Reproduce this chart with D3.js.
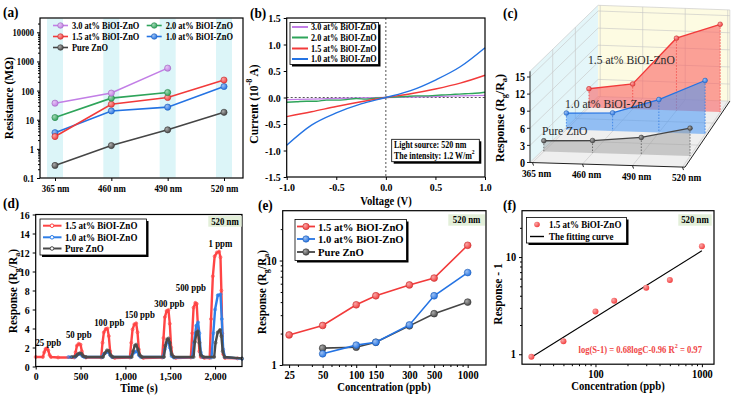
<!DOCTYPE html>
<html><head><meta charset="utf-8">
<script src="https://cdn.jsdelivr.net/npm/d3@7"></script>
<style>body{margin:0;background:#fff}</style>
</head><body><script>
// ---------------- DATA ----------------
// (a) resistance vs wavelength
const aWave=['365 nm','460 nm','490 nm','520 nm'];
const aRes30=[37,82,590,null];
const aRes20=[11.9,55,86,null];
const aRes15=[2.65,34,58,230];
const aRes10=[3.6,20,27,138];
const aResZnO=[0.27,1.3,4.5,18];
const aYTicks=[0.1,1,10,100,1000,10000];
// (b) I-V curves
const bVolt=[-1,-0.75,-0.5,-0.25,0,0.25,0.5,0.75,1];
const bI10=[-0.9,-0.52,-0.29,-0.12,0,0.13,0.33,0.58,0.94];
const bI15=[-0.36,-0.27,-0.17,-0.08,0,0.07,0.16,0.27,0.42];
const bI30=[-0.04,-0.03,-0.02,-0.01,0,0.01,0.02,0.03,0.04];
const bVoltFine=[-1,-0.9,-0.8,-0.7,-0.6,-0.5,-0.4,-0.3,-0.2,-0.1,0,0.1,0.2,0.3,0.4,0.5,0.6,0.7,0.8,0.9,1];
const bI20=[-0.09,-0.08,-0.07,-0.07,-0.05,-0.05,-0.04,-0.02,-0.03,-0.01,0,0.01,0.02,0.03,0.03,0.04,0.05,0.06,0.07,0.08,0.1];
const bYTicks=[-1.5,-1.0,-0.5,0,0.5,1.0,1.5];
const bXTicks=[-1,-0.5,0,0.5,1];
// (c) 3D response vs wavelength
const cResp15=[3.3,4.4,12.7,15.4];
const cResp10=[2.9,3.2,5.8,9.4];
const cRespZnO=[1.9,2.2,3.0,4.9];
const cZTicks=[0,3,6,9,12,15];
// (d) dynamic response [time s, response]
const dT15=[[0,1.0],[80,1.0],[95,1.5],[110,1.85],[125,1.92],[140,1.7],[155,1.2],[170,1.0],[250,0.95],[430,0.95],[445,1.5],[460,2.2],[480,2.4],[500,2.3],[515,1.6],[530,1.1],[560,0.95],[730,0.95],[745,2.5],[760,3.6],[780,3.95],[800,4.0],[815,3.2],[830,1.6],[845,1.05],[880,0.9],[1050,0.95],[1065,2.5],[1080,3.9],[1100,4.45],[1120,4.55],[1135,3.6],[1150,1.8],[1165,1.1],[1200,0.9],[1410,0.95],[1425,3.0],[1440,5.2],[1460,5.85],[1480,5.95],[1495,4.5],[1510,2.0],[1525,1.1],[1560,0.9],[1730,0.95],[1745,3.5],[1760,6.2],[1780,6.7],[1795,6.6],[1810,4.0],[1825,1.6],[1840,1.0],[1880,0.9],[1940,0.9],[1955,5.0],[1975,9.5],[1995,11.6],[2020,12.0],[2045,12.1],[2060,11.5],[2070,8.0],[2080,3.5],[2090,1.3],[2110,0.9],[2250,0.85]];
const dT10=[[365,1.0],[440,1.0],[460,1.2],[480,1.3],[500,1.3],[520,1.1],[540,1.0],[740,1.0],[760,1.3],[790,1.5],[810,1.55],[830,1.2],[850,1.0],[1060,1.0],[1080,1.3],[1110,1.55],[1130,1.6],[1150,1.2],[1170,1.0],[1420,1.0],[1440,1.8],[1460,2.5],[1480,2.6],[1495,2.0],[1515,1.1],[1540,0.95],[1745,1.0],[1765,2.5],[1790,4.3],[1810,4.65],[1825,3.5],[1840,1.5],[1860,1.0],[1960,0.95],[1980,3.5],[2000,6.0],[2030,7.5],[2060,7.6],[2075,5.0],[2090,1.8],[2110,1.0],[2300,0.8]];
const dTZnO=[[400,1.0],[450,1.1],[470,1.3],[490,1.4],[510,1.35],[530,1.1],[560,1.0],[750,1.0],[770,1.4],[795,1.7],[815,1.65],[835,1.2],[860,1.0],[1070,1.0],[1085,1.6],[1105,2.2],[1120,2.3],[1140,1.8],[1160,1.2],[1185,1.0],[1430,1.0],[1445,2.2],[1465,2.85],[1480,2.95],[1495,2.5],[1515,1.3],[1540,1.0],[1760,1.0],[1775,2.6],[1795,3.6],[1810,3.7],[1825,2.5],[1840,1.2],[1870,1.0],[1990,1.0],[2005,2.5],[2030,3.6],[2055,3.85],[2070,3.2],[2085,1.6],[2105,1.0],[2300,0.85]];
const dPeakLabels=['25 ppb','50 ppb','100 ppb','150 ppb','300 ppb','500 ppb','1 ppm'];
const dPeakT=[140,480,820,1160,1490,1730,2060];
const dPeakV=[2.55,3.4,4.7,5.5,6.65,8.3,13.0];
const dXTicks=[0,500,1000,1500,2000];
const dYTicks=[0,2,4,6,8,10,12,14,16];
// (e) response vs concentration
const eConc15=[25,50,100,150,300,500,1000];
const eResp15=[1.94,2.39,3.77,4.6,5.84,6.8,14.0];
const eConc=[50,100,150,300,500,1000];
const eResp10=[1.28,1.55,1.65,2.42,4.6,7.67];
const eRespZnO=[1.45,1.48,1.65,2.37,3.1,4.0];
const eXTicks=[25,50,100,150,300,500,1000];
// (f) log fit
const fConc=[25,50,100,150,300,500,1000];
const fResp=[0.94,1.36,2.75,3.55,4.83,5.8,12.9];
const fFitC=[25,1000];
const fFitR=[0.93,11.6];

// ---------------- SETUP ----------------
const FAM='"Liberation Serif","Times New Roman",Times,serif';
const C={purple:'#c27ee6',green:'#2ea45a',red:'#f23a3a',blue:'#2473e3',gray:'#454545'};
const svg=d3.select('body').append('svg').attr('width',737).attr('height',398);
const defs=svg.append('defs');
function grad(id,c){const g=defs.append('radialGradient').attr('id',id).attr('cx','35%').attr('cy','35%').attr('r','70%');
 g.append('stop').attr('offset','0%').attr('stop-color',d3.interpolateRgb(c,'#fff')(0.55));
 g.append('stop').attr('offset','100%').attr('stop-color',c);return `url(#${id})`;}
const G={};Object.keys(C).forEach(k=>G[k]=grad('g_'+k,C[k]));

function T(g,x,y,s,o={}){
 const size=o.size||10;
 const t=g.append('text').attr('x',x).attr('y',y).attr('font-family',FAM).attr('font-size',size)
  .attr('font-weight',o.weight||'bold').attr('text-anchor',o.anchor||'start')
  .attr('dominant-baseline','central').attr('fill',o.fill||'#000');
 if(o.sq!=null)t.attr('data-sq',o.sq);
 if(typeof s==='string')t.text(s);
 else s.forEach(p=>{const ts=t.append('tspan').text(p.t);
   if(p.sub)ts.attr('baseline-shift','sub').attr('font-size',size*0.7);
   if(p.sup)ts.attr('baseline-shift','super').attr('font-size',size*0.7);});
 return t;}
function R(x,y,parts,size){const t=T(svg,0,0,parts,{size,anchor:'middle'});
 t.attr('transform',`translate(${x},${y}) rotate(-90)`).classed('rot',true);return t;}
function A(gen,tx,ty,size,sq){const g=svg.append('g').attr('transform',`translate(${tx},${ty})`).call(gen);
 g.select('.domain').remove();
 g.selectAll('text').attr('font-family',FAM).attr('font-size',size).attr('font-weight','bold').attr('fill','#000').attr('data-sq',sq);
 g.selectAll('line').attr('stroke','#000');return g;}
function minor(gen,tx,ty){const g=svg.append('g').attr('transform',`translate(${tx},${ty})`).call(gen.tickFormat(()=>'' ).tickSize(2));
 g.select('.domain').remove();g.selectAll('line').attr('stroke','#000');}
function frame(x0,y0,x1,y1){svg.append('rect').attr('x',x0).attr('y',y0).attr('width',x1-x0).attr('height',y1-y0)
 .attr('fill','none').attr('stroke','#000').attr('stroke-width',1.2);}
function lbox(x0,y0,x1,y1){svg.append('rect').attr('x',x0+2).attr('y',y0+2).attr('width',x1-x0).attr('height',y1-y0).attr('fill','#000');
 svg.append('rect').attr('x',x0).attr('y',y0).attr('width',x1-x0).attr('height',y1-y0).attr('fill','#fff').attr('stroke','#000').attr('stroke-width',0.8);}
function tag(x0,y0,x1,y1){svg.append('rect').attr('x',x0).attr('y',y0).attr('width',x1-x0).attr('height',y1-y0).attr('fill','#e3efd9');
 T(svg,(x0+x1)/2,(y0+y1)/2,'520 nm',{size:10,anchor:'middle',sq:0.88});}
const RG=s=>[{t:'Response (R'},{t:'g',sub:1},{t:'/R'},{t:'a',sub:1},{t:')'}];

// ---------------- (a) ----------------
{
 const ax=d3.scalePoint().domain(aWave).range([55,224]);
 const ay=d3.scaleLog().domain([0.1,31000]).range([178,18]);
 aWave.forEach(w=>svg.append('rect').attr('x',ax(w)-8).attr('y',18.5).attr('width',16).attr('height',159).attr('fill','#dcf5f8'));
 const ser=[{v:aResZnO,c:'gray',n:'Pure ZnO'},{v:aRes10,c:'blue',n:'1.0 at% BiOI-ZnO'},{v:aRes15,c:'red',n:'1.5 at% BiOI-ZnO'},
  {v:aRes20,c:'green',n:'2.0 at% BiOI-ZnO'},{v:aRes30,c:'purple',n:'3.0 at% BiOI-ZnO'}];
 const line=d3.line().defined(d=>d[1]!=null).x(d=>ax(d[0])).y(d=>ay(d[1]));
 ser.forEach(s=>{const pts=aWave.map((w,i)=>[w,s.v[i]]);
  svg.append('path').attr('d',line(pts)).attr('fill','none').attr('stroke',C[s.c]).attr('stroke-width',1.6);
  pts.filter(d=>d[1]!=null).forEach(d=>svg.append('circle').attr('cx',ax(d[0])).attr('cy',ay(d[1])).attr('r',3.1)
   .attr('fill',G[s.c]).attr('stroke',d3.color(C[s.c]).darker(0.6)).attr('stroke-width',0.6));});
 frame(40,18,243,178);
 A(d3.axisLeft(ay).tickValues(aYTicks).tickFormat(d=>String(d)).tickSize(3),40,0,11,0.78);
 const mn=[];aYTicks.slice(0,-1).forEach(b=>{for(let k=2;k<10;k++)mn.push(b*k);});mn.push(20000);
 minor(d3.axisLeft(ay).tickValues(mn),40,0);
 A(d3.axisBottom(ax).tickSize(3),0,178,11,0.8);
 R(9,98,[{t:'Resistance (MΩ)'}],11.5);
 const leg=[[53,25.5,'purple','3.0 at% BiOI-ZnO'],[146.7,25.5,'green','2.0 at% BiOI-ZnO'],[53,36.5,'red','1.5 at% BiOI-ZnO'],
  [146.7,36.5,'blue','1.0 at% BiOI-ZnO'],[53,47.5,'gray','Pure ZnO']];
 leg.forEach(([x,y,c,n])=>{svg.append('line').attr('x1',x).attr('x2',x+15).attr('y1',y).attr('y2',y).attr('stroke',C[c]).attr('stroke-width',1.6);
  svg.append('circle').attr('cx',x+7.5).attr('cy',y).attr('r',2.8).attr('fill',G[c]).attr('stroke',d3.color(C[c]).darker(0.6)).attr('stroke-width',0.6);
  T(svg,x+19,y,n,{size:10,sq:0.84});});
 T(svg,3,12,'(a)',{size:14,sq:0.95});
}

// ---------------- (b) ----------------
{
 const bx=d3.scaleLinear([-1,1],[286.7,485]);
 const by=d3.scaleLinear([-1.5,1.5],[177,18]);
 svg.append('line').attr('x1',bx(0)).attr('x2',bx(0)).attr('y1',18).attr('y2',177).attr('stroke','#555').attr('stroke-dasharray','2,2');
 svg.append('line').attr('x1',bx(-1)).attr('x2',bx(1)).attr('y1',by(0)).attr('y2',by(0)).attr('stroke','#555').attr('stroke-dasharray','2,2');
 const line=d3.line().curve(d3.curveMonotoneX).x(d=>bx(d[0])).y(d=>by(d[1]));
 const ser=[[bVolt,bI30,'purple'],[bVoltFine,bI20,'green'],[bVolt,bI15,'red'],[bVolt,bI10,'blue']];
 ser.forEach(([v,i,c])=>svg.append('path').attr('d',line(v.map((x,k)=>[x,i[k]]))).attr('fill','none').attr('stroke',C[c]).attr('stroke-width',1.4));
 frame(286.7,18,485,177);
 A(d3.axisLeft(by).tickValues(bYTicks).tickFormat(d=>d.toFixed(1)).tickSize(3),286.7,0,11,0.9);
 A(d3.axisBottom(bx).tickValues(bXTicks).tickFormat(d=>d.toFixed(1)).tickSize(3),0,177,11,0.9);
 R(254,104,[{t:'Current (10'},{t:'-8',sup:1},{t:' A)'}],11.5);
 T(svg,386,201,'Voltage (V)',{size:11.5,anchor:'middle',sq:0.93});
 lbox(290,22.5,378.5,64.5);
 [['3.0 at% BiOI-ZnO','purple',27],['2.0 at% BiOI-ZnO','green',37.5],['1.5 at% BiOI-ZnO','red',48.5],['1.0 at% BiOI-ZnO','blue',59]].forEach(([n,c,y])=>{
  svg.append('line').attr('x1',292).attr('x2',308).attr('y1',y).attr('y2',y).attr('stroke',C[c]).attr('stroke-width',2);
  T(svg,311,y,n,{size:10,sq:0.82});});
 lbox(391.7,139.3,479.3,161.7);
 T(svg,394,144.5,'Light source: 520 nm',{size:9.5,sq:0.84});
 T(svg,394,155.5,[{t:'The intensity: 1.2 W/m'},{t:'2',sup:1}],{size:9.5,sq:0.84});
 T(svg,250,13,'(b)',{size:14,sq:0.95});
}

// ---------------- (c) 3D ----------------
{
 const cz=d3.scaleLinear([0,16],[0,91.2]);
 const ci=d3.scaleLinear([0,3],[0.05,3.05]);
 const P=(s,d,z)=>{const step=50-d*2.5;return [530+s*step+d*22.7,162.5+s*1.5-d*22-cz(z)];};
 const poly=pts=>'M'+pts.map(p=>p.join(',')).join('L')+'Z';
 const g=svg.append('g');
 const S1=3.1,D1=3,Z1=16;
 g.append('path').attr('d',poly([P(0,0,0),P(S1,0,0),P(S1,D1,0),P(0,D1,0)])).attr('fill','#efefef');
 g.append('path').attr('d',poly([P(0,0,0),P(0,D1,0),P(0,D1,Z1),P(0,0,Z1)])).attr('fill','#e4f6f9');
 g.append('path').attr('d',poly([P(0,D1,0),P(S1,D1,0),P(S1,D1,Z1),P(0,D1,Z1)])).attr('fill','#fdfbe2');
 const gl=(a,b)=>g.append('line').attr('x1',a[0]).attr('y1',a[1]).attr('x2',b[0]).attr('y2',b[1]).attr('stroke','#c4c4c4').attr('stroke-width',0.6);
 [0,1,2,3].forEach(i=>{gl(P(ci(i),0,0),P(ci(i),D1,0));gl(P(ci(i),D1,0),P(ci(i),D1,Z1));});
 [1,2].forEach(d=>{gl(P(0,d,0),P(S1,d,0));gl(P(0,d,0),P(0,d,Z1));});
 cZTicks.forEach(z=>{gl(P(0,0,z),P(0,D1,z));gl(P(0,D1,z),P(S1,D1,z));});
 gl(P(0,0,Z1),P(0,D1,Z1));gl(P(0,D1,Z1),P(S1,D1,Z1));gl(P(S1,D1,0),P(S1,D1,Z1));
 const ser=[[cResp15,2.5,'red','rgba(250,100,100,0.6)','1.5 at% BiOI-ZnO',[588,60]],
  [cResp10,1.5,'blue','rgba(70,150,245,0.55)','1.0 at% BiOI-ZnO',[565,104]],
  [cRespZnO,0.5,'gray','rgba(150,150,150,0.45)','Pure ZnO',[542,131]]];
 ser.forEach(([v,d,c,fill,n,lp])=>{
  const top=v.map((z,i)=>P(ci(i),d,z)), bot=v.map((z,i)=>P(ci(i),d,0)).reverse();
  g.append('path').attr('d',poly(top.concat(bot))).attr('fill',fill);
  v.forEach((z,i)=>{const a=P(ci(i),d,z),b=P(ci(i),d,0);
   g.append('line').attr('x1',a[0]).attr('y1',a[1]).attr('x2',b[0]).attr('y2',b[1]).attr('stroke',C[c]).attr('stroke-width',0.7).attr('stroke-dasharray','1.5,1.5');});
  g.append('path').attr('d',d3.line()(top)).attr('fill','none').attr('stroke',C[c]).attr('stroke-width',1.3);
  top.forEach(p=>g.append('circle').attr('cx',p[0]).attr('cy',p[1]).attr('r',2.4).attr('fill',G[c]).attr('stroke',d3.color(C[c]).darker(0.7)).attr('stroke-width',0.5));
  T(g,lp[0],lp[1],n,{size:12.5,weight:'normal',fill:'#2a2a2a',sq:0.93});
 });
 const bl=(a,b,w)=>g.append('line').attr('x1',a[0]).attr('y1',a[1]).attr('x2',b[0]).attr('y2',b[1]).attr('stroke','#222').attr('stroke-width',w||1);
 bl(P(0,0,0),P(S1,0,0));bl(P(S1,0,0),P(S1,D1,0));bl(P(0,0,0),P(0,0,Z1));
 cZTicks.forEach(z=>{const p=P(0,0,z);bl(p,[p[0]-3,p[1]]);T(g,p[0]-5,p[1],String(z),{size:11.5,anchor:'end',sq:0.88});});
 aWave.forEach((w,i)=>{const p=P(ci(i),0,0);bl(p,[p[0]+1,p[1]+3]);T(g,p[0]+4,p[1]+10.5,w,{size:11,anchor:'middle',sq:0.85});});
 R(500,118,RG(),12);
 T(svg,503,13,'(c)',{size:14,sq:0.95});
}

// ---------------- (d) ----------------
{
 const dx=d3.scaleLinear([0,2300],[35.7,242]);
 const dy=d3.scaleLinear([0,16],[366.5,214.5]);
 const line=d3.line().x(d=>dx(d[0])).y(d=>dy(d[1]));
 const ser=[[dT15,'#ff4545'],[dT10,'#2f7fe8'],[dTZnO,'#4a4a4a']];
 ser.forEach(([pts,c])=>{svg.append('path').attr('d',line(pts)).attr('fill','none').attr('stroke',c).attr('stroke-width',2.4).attr('stroke-linejoin','round');
  pts.forEach(p=>svg.append('circle').attr('cx',dx(p[0])).attr('cy',dy(p[1])).attr('r',1.5).attr('fill','none').attr('stroke',c).attr('stroke-width',0.7));});
 frame(35.7,214.5,242,366.5);
 A(d3.axisLeft(dy).tickValues(dYTicks).tickSize(3),35.7,0,11,0.9);
 A(d3.axisBottom(dx).tickValues(dXTicks).tickSize(3),0,366.5,11,0.9);
 R(13,291,RG(),11.5);
 T(svg,139,388,'Time (s)',{size:11.5,anchor:'middle',sq:0.93});
 dPeakLabels.forEach((s,i)=>T(svg,dx(dPeakT[i]),dy(dPeakV[i]),s,{size:10.5,anchor:'middle',sq:0.84}));
 lbox(40,219,146.5,255);
 [['1.5 at% BiOI-ZnO','#ff4545',225.7],['1.0 at% BiOI-ZnO','#2f7fe8',237.3],['Pure ZnO','#4a4a4a',248.5]].forEach(([n,c,y])=>{
  svg.append('line').attr('x1',43).attr('x2',61.5).attr('y1',y).attr('y2',y).attr('stroke',c).attr('stroke-width',2);
  svg.append('circle').attr('cx',52).attr('cy',y).attr('r',1.8).attr('fill','#fff').attr('stroke',c);
  T(svg,65,y,n,{size:10.5,sq:0.86});});
 tag(208.3,216,241.7,226.7);
 T(svg,3,203,'(d)',{size:14,sq:0.95});
}

// ---------------- (e) ----------------
{
 const ex=d3.scaleLog().domain([21.9,1460]).range([282.7,486]);
 const ey=d3.scaleLog().domain([1,30]).range([365,210.7]);
 const line=d3.line().x(d=>ex(d[0])).y(d=>ey(d[1]));
 const ser=[[eConc,eRespZnO,'gray'],[eConc,eResp10,'blue'],[eConc15,eResp15,'red']];
 ser.forEach(([x,v,c])=>{const pts=x.map((q,i)=>[q,v[i]]);
  svg.append('path').attr('d',line(pts)).attr('fill','none').attr('stroke',C[c]).attr('stroke-width',1.6);
  pts.forEach(p=>svg.append('circle').attr('cx',ex(p[0])).attr('cy',ey(p[1])).attr('r',3.4).attr('fill',G[c]).attr('stroke',d3.color(C[c]).darker(0.6)).attr('stroke-width',0.6));});
 frame(282.7,210.7,486,365);
 A(d3.axisLeft(ey).tickValues([1,10]).tickFormat(d=>String(d)).tickSize(3),282.7,0,11.5,0.9);
 minor(d3.axisLeft(ey).tickValues([2,3,4,5,6,7,8,9,20]),282.7,0);
 A(d3.axisBottom(ex).tickValues(eXTicks).tickFormat(d=>String(d)).tickSize(3),0,365,11.5,0.9);
 minor(d3.axisBottom(ex).tickValues([30,40,60,70,80,90,200,400,600,700,800,900]),0,365);
 R(262,292,RG(),11.5);
 T(svg,384,387,'Concentration (ppb)',{size:11.5,anchor:'middle',sq:0.93});
 lbox(295,219.5,406.5,260.5);
 [['1.5 at% BiOI-ZnO','red',226.5],['1.0 at% BiOI-ZnO','blue',239],['Pure ZnO','gray',252]].forEach(([n,c,y])=>{
  svg.append('line').attr('x1',297).attr('x2',315).attr('y1',y).attr('y2',y).attr('stroke',C[c]).attr('stroke-width',1.8);
  svg.append('circle').attr('cx',306).attr('cy',y).attr('r',3.2).attr('fill',G[c]).attr('stroke',d3.color(C[c]).darker(0.6)).attr('stroke-width',0.6);
  T(svg,318,y,n,{size:11,sq:0.97});});
 tag(448.3,214.3,485,225.7);
 T(svg,258,205,'(e)',{size:14,sq:0.95});
}

// ---------------- (f) ----------------
{
 const fx=d3.scaleLog().domain([20.4,1300]).range([522,714]);
 const fy=d3.scaleLog().domain([0.79,30]).range([364.2,210.7]);
 svg.append('path').attr('d',d3.line()(fFitC.map((c,i)=>[fx(c),fy(fFitR[i])]))).attr('stroke','#000').attr('stroke-width',1.1);
 fConc.forEach((c,i)=>svg.append('circle').attr('cx',fx(c)).attr('cy',fy(fResp[i])).attr('r',3).attr('fill',G.red).attr('stroke','none'));
 frame(522,210.7,714,364.2);
 A(d3.axisLeft(fy).tickValues([1,10]).tickFormat(d=>String(d)).tickSize(3),522,0,11.5,0.9);
 minor(d3.axisLeft(fy).tickValues([2,3,4,5,6,7,8,9,20]),522,0);
 A(d3.axisBottom(fx).tickValues([100,1000]).tickFormat(d=>String(d)).tickSize(3),0,364.2,11.5,0.9);
 minor(d3.axisBottom(fx).tickValues([30,40,50,60,70,80,90,200,300,400,500,600,700,800,900]),0,364.2);
 R(498,294,[{t:'Response - 1'}],11.5);
 T(svg,618,386,'Concentration (ppb)',{size:11.5,anchor:'middle',sq:0.93});
 lbox(526.5,217.5,626.5,243);
 svg.append('circle').attr('cx',537).attr('cy',224.5).attr('r',2.8).attr('fill',G.red);
 T(svg,549,224.5,'1.5 at% BiOI-ZnO',{size:10.5,sq:0.86});
 svg.append('line').attr('x1',530).attr('x2',544).attr('y1',236.5).attr('y2',236.5).attr('stroke','#000').attr('stroke-width',1.4);
 T(svg,549,236.5,'The fitting curve',{size:10.5,sq:0.86});
 T(svg,578.5,349.3,[{t:'log(S-1) = 0.68logC-0.96  R'},{t:'2',sup:1},{t:' = 0.97'}],{size:10,fill:'#f04545',sq:0.86});
 tag(678.3,214.3,711.7,225.7);
 T(svg,503,205,'(f)',{size:14,sq:0.95});
}

// ---------------- horizontal squeeze of text (matches narrow type in the figure) ----------------
svg.selectAll('text').each(function(){
 if(this.classList.contains('rot'))return;
 const k=+(this.getAttribute('data-sq')||0.9); if(k===1)return;
 const a=getComputedStyle(this).textAnchor;
 this.style.transformBox='fill-box';
 this.style.transformOrigin=a==='middle'?'50% 50%':(a==='end'?'100% 50%':'0% 50%');
 this.style.transform=`scaleX(${k})`;
});
</script></body></html>
